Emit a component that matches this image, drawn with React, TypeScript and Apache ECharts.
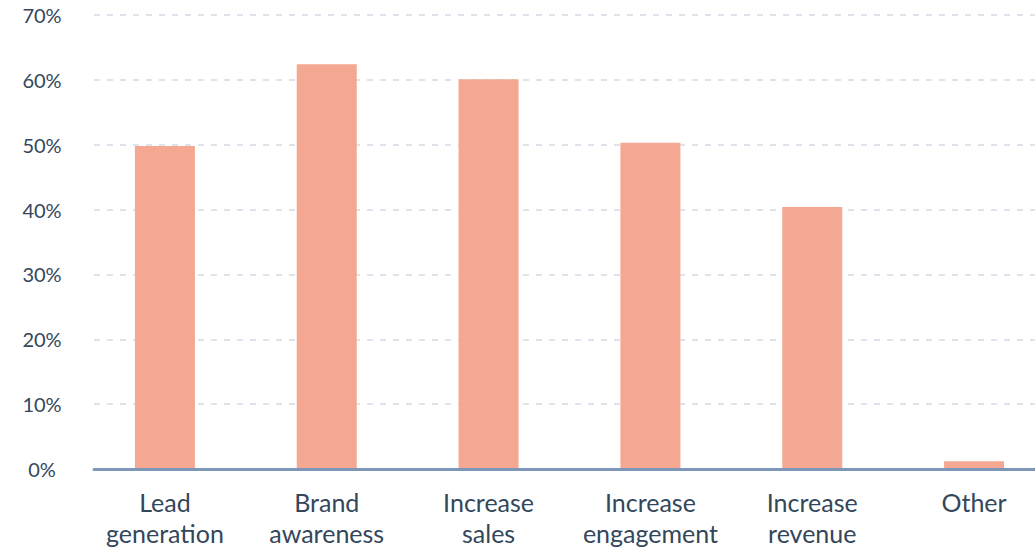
import React, { useEffect, useRef } from "react";
import * as echarts from "echarts";

const categories = [
  "Lead\ngeneration",
  "Brand\nawareness",
  "Increase\nsales",
  "Increase\nengagement",
  "Increase\nrevenue",
  "Other",
];
const values = [49.8, 62.4, 60.1, 50.3, 40.4, 1.2];
const yTicks = { min: 0, max: 70, interval: 10 };

const FONT = "Lato";
const TEXT = "#33475b";
const CHART_W = 1070;

export default function App() {
  const ref = useRef<HTMLDivElement>(null);
  useEffect(() => {
    if (!ref.current) return;
    const chart = echarts.init(ref.current, undefined, { renderer: "svg" });
    chart.setOption({
      animation: false,
      backgroundColor: "#ffffff",
      grid: [
        { left: 94, right: CHART_W - 1035, top: 15, bottom: 79 },
        { left: 84, right: CHART_W - 1055, top: 15, bottom: 79 },
      ],
      xAxis: [
        {
          gridIndex: 0,
          type: "value",
          min: 0,
          max: 1,
          z: 10,
          axisLine: { show: true, lineStyle: { color: "#7c98b6", width: 3 } },
          axisTick: { show: false },
          axisLabel: { show: false },
          splitLine: { show: false },
        },
        {
          gridIndex: 1,
          type: "category",
          data: categories,
          axisLine: { show: false },
          axisTick: { show: false },
          splitLine: { show: false },
          axisLabel: {
            color: TEXT,
            fontFamily: FONT,
            fontSize: 25,
            lineHeight: 31,
            margin: 17,
            interval: 0,
          },
        },
      ],
      yAxis: [
        {
          gridIndex: 0,
          type: "value",
          min: yTicks.min,
          max: yTicks.max,
          interval: yTicks.interval,
          axisLine: { show: false },
          axisTick: { show: false },
          axisLabel: {
            color: TEXT,
            fontFamily: FONT,
            fontSize: 20,
            formatter: "{value}%",
            align: "center",
            margin: 52,
            padding: [6, 0, 0, 0],
          },
          splitLine: {
            show: true,
            lineStyle: { color: "#dfe4ec", width: 2, type: [6, 7] },
          },
        },
        {
          gridIndex: 1,
          type: "value",
          min: yTicks.min,
          max: yTicks.max,
          interval: yTicks.interval,
          show: false,
          splitLine: { show: false },
        },
      ],
      series: [
        {
          type: "bar",
          xAxisIndex: 1,
          yAxisIndex: 1,
          data: values,
          barWidth: 60,
          itemStyle: { color: "#f5a891" },
          z: 2,
        },
      ],
    });
    return () => chart.dispose();
  }, []);
  return (
    <div
      style={{
        position: "absolute",
        left: 0,
        top: 0,
        width: 1035,
        height: 548,
        overflow: "hidden",
        background: "#ffffff",
      }}
    >
      <div ref={ref} style={{ width: CHART_W, height: 548 }} />
    </div>
  );
}
